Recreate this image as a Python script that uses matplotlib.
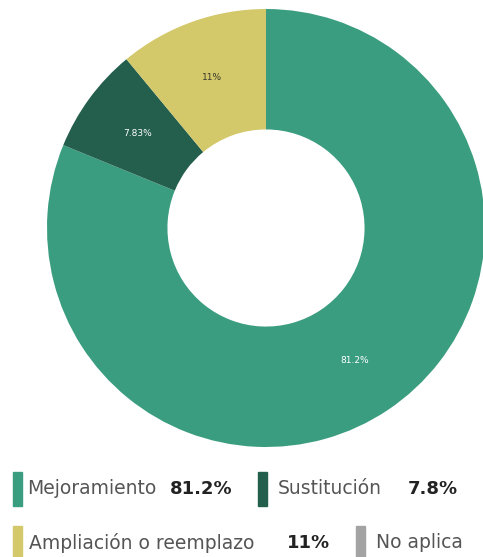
import matplotlib
matplotlib.use("Agg")
import matplotlib.pyplot as plt
from matplotlib.patches import Rectangle

# datos
categorias = ["Mejoramiento", "Sustitución", "Ampliación o reemplazo", "No aplica"]
valores = [81.2, 7.83, 11.0, 0.0]
etiquetas_pie = ["81.2%", "7.83%", "11%", ""]
etiquetas_leyenda = ["81.2%", "7.8%", "11%", ""]
colores = ["#3b9d80", "#245e4c", "#d3c86a", "#a3a3a3"]
color_texto_pie = ["white", "white", "#3a3a2a", "white"]

W, H = 483, 557
fig = plt.figure(figsize=(W / 100, H / 100), dpi=100)
plt.rcParams['font.family'] = ['DejaVu Sans']

# ===== Dona =====
cx, cy, r = 266, 228, 219
ax = fig.add_axes([(cx - r) / W, (H - cy - r) / H, 2 * r / W, 2 * r / H])
vals = [v for v in valores if v > 0]
cols = [c for v, c in zip(valores, colores) if v > 0]
labs = [l for v, l in zip(valores, etiquetas_pie) if v > 0]
tcol = [t for v, t in zip(valores, color_texto_pie) if v > 0]
wedges, texts = ax.pie(vals, colors=cols, startangle=90, counterclock=False,
                       labels=labs, labeldistance=0.73,
                       wedgeprops=dict(width=1 - 0.45, linewidth=0),
                       textprops=dict(fontsize=6.5, ha='center', va='center'))
for t, c in zip(texts, tcol):
    t.set_color(c)
ax.set_xlim(-1, 1)
ax.set_ylim(-1, 1)
ax.set_aspect('equal')
ax.axis('off')

# ===== Leyenda =====
# (x barra, y centro, x texto, x valor)
pos = [(13, 489, 27, 170), (258, 489, 278, 408),
       (13, 543, 29, 287), (356, 543, 376, None)]
for (xb, yc, xt, xv), cat, val, col in zip(pos, categorias, etiquetas_leyenda, colores):
    fig.patches.append(Rectangle((xb / W, (H - yc - 17) / H), 9 / W, 34 / H,
                                 transform=fig.transFigure, color=col))
    fig.text(xt / W, (H - yc) / H, cat, fontsize=13.5, color="#555555",
             ha='left', va='center')
    if xv is not None and val:
        fig.text(xv / W, (H - yc) / H, val, fontsize=13, color="#222222",
                 fontweight='bold', ha='left', va='center')

fig.savefig("out.png", dpi=100)
